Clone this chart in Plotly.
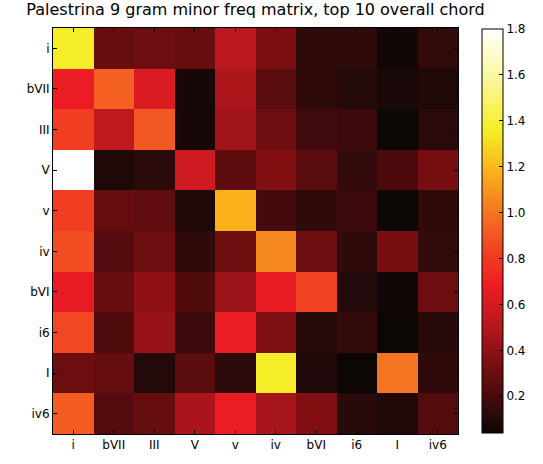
import plotly.graph_objects as go

chords = ["i", "bVII", "III", "V", "v", "iv", "bVI", "i6", "I", "iv6"]

row_i    = [1.36, 0.28, 0.30, 0.28, 0.52, 0.34, 0.13, 0.13, 0.05, 0.14]
row_bVII = [0.68, 0.93, 0.62, 0.07, 0.48, 0.25, 0.13, 0.10, 0.08, 0.09]
row_III  = [0.82, 0.54, 0.91, 0.07, 0.44, 0.30, 0.18, 0.17, 0.04, 0.12]
row_V    = [1.80, 0.09, 0.12, 0.58, 0.26, 0.36, 0.25, 0.14, 0.21, 0.33]
row_v    = [0.82, 0.28, 0.27, 0.09, 1.18, 0.19, 0.13, 0.17, 0.04, 0.13]
row_iv   = [0.87, 0.23, 0.30, 0.13, 0.30, 1.06, 0.30, 0.13, 0.33, 0.14]
row_bVI  = [0.66, 0.29, 0.40, 0.22, 0.43, 0.67, 0.83, 0.10, 0.05, 0.30]
row_i6   = [0.85, 0.22, 0.42, 0.17, 0.68, 0.35, 0.11, 0.14, 0.04, 0.11]
row_I    = [0.30, 0.28, 0.10, 0.25, 0.12, 1.36, 0.09, 0.04, 1.00, 0.13]
row_iv6  = [0.92, 0.23, 0.28, 0.47, 0.68, 0.46, 0.36, 0.11, 0.09, 0.23]

matrix = [row_i, row_bVII, row_III, row_V, row_v, row_iv, row_bVI, row_i6, row_I, row_iv6]

cbar_ticks = [0.2, 0.4, 0.6, 0.8, 1.0, 1.2, 1.4, 1.6, 1.8]

# "hot"-like colour map as it appears in the reference
hot = [
    [0.0, "rgb(12,6,5)"],
    [0.045, "rgb(42,10,10)"],
    [0.09, "rgb(72,10,12)"],
    [0.18, "rgb(128,15,18)"],
    [0.27, "rgb(185,24,30)"],
    [0.365, "rgb(237,28,36)"],
    [0.45, "rgb(241,65,35)"],
    [0.55, "rgb(244,120,33)"],
    [0.65, "rgb(250,178,28)"],
    [0.746, "rgb(245,237,35)"],
    [0.87, "rgb(250,248,150)"],
    [1.0, "rgb(255,255,255)"],
]

fig = go.Figure(go.Heatmap(
    z=matrix, x=chords, y=chords,
    colorscale=hot, zmin=0.04, zmax=1.8,
    colorbar=dict(
        x=1.060, xanchor="left", xref="paper",
        y=0.5, yanchor="middle", len=0.995, lenmode="fraction",
        thickness=21, thicknessmode="pixels",
        outlinecolor="black", outlinewidth=1,
        ticks="inside", ticklen=4, tickcolor="black",
        tickvals=cbar_ticks, ticktext=["%.1f" % t for t in cbar_ticks],
        tickfont=dict(family="DejaVu Sans", size=12, color="black"),
        xpad=0, ypad=0,
    ),
))

fig.update_layout(
    width=543, height=464,
    margin=dict(l=53, r=76, t=28, b=23),
    paper_bgcolor="white", plot_bgcolor="white",
    title=dict(text="Palestrina 9 gram minor freq matrix, top 10 overall chord",
               x=0.5, xref="paper", xanchor="center",
               yref="container", y=0.992, yanchor="top",
               font=dict(family="DejaVu Sans", size=16, color="black")),
    font=dict(family="DejaVu Sans", size=12, color="black"),
)

fig.update_xaxes(showline=True, linecolor="black", linewidth=1, mirror="allticks",
                 ticks="inside", ticklen=4, tickcolor="black", showgrid=False,
                 tickfont=dict(size=12), zeroline=False)
fig.update_yaxes(showline=True, linecolor="black", linewidth=1, mirror="allticks",
                 ticks="inside", ticklen=4, tickcolor="black", showgrid=False,
                 autorange="reversed", tickfont=dict(size=12), zeroline=False)

fig.write_html("out.html")
